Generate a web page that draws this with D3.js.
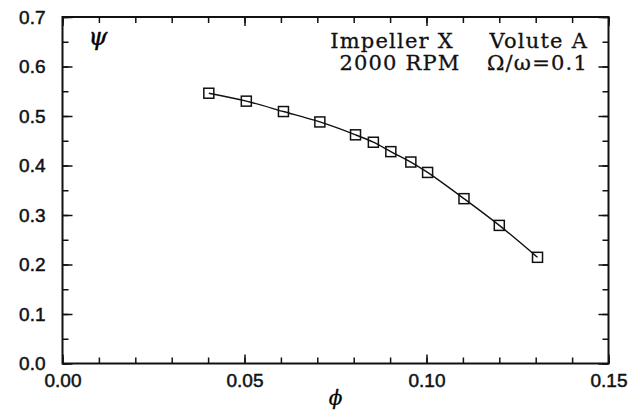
<!DOCTYPE html>
<html>
<head>
<meta charset="utf-8">
<script src="https://cdn.jsdelivr.net/npm/d3@7"></script>
<style>
  body { margin: 0; background: #fff; }
  .tick text { font-family: "Liberation Sans", Arial, sans-serif; font-size: 19px; fill: #111; stroke: #111; stroke-width: 0.5; }
  .domain { stroke: none; }
  .tick line { stroke: #111; stroke-width: 1.5; }
  .note { font-family: "DejaVu Serif", serif; font-size: 21px; letter-spacing: 1.2px; fill: #111; stroke: #111; stroke-width: 0.3; }
</style>
</head>
<body>
<svg id="chart" width="633" height="415"></svg>
<script>
// flow coefficient vs head coefficient
var phi = [0.0402, 0.0505, 0.0607, 0.0707, 0.0805, 0.0854, 0.0902, 0.0957, 0.1003, 0.1103, 0.1200, 0.1305];
var psi = [0.546, 0.530, 0.509, 0.488, 0.462, 0.447, 0.428, 0.407, 0.386, 0.333, 0.279, 0.2145];

var xTicks = [0, 0.05, 0.10, 0.15];
var yTicks = [0, 0.1, 0.2, 0.3, 0.4, 0.5, 0.6, 0.7];
var xMinor = d3.range(0, 0.1501, 0.01);
var yMinor = d3.range(0, 0.7001, 0.05);

var notes = [
  ["Impeller X", "Volute A"],
  ["2000 RPM", "\u03A9/\u03C9=0.1"]
];

var plotL = 62.5, plotR = 608.5, plotT = 17, plotB = 363.5;

var svg = d3.select("#chart");

var x = d3.scaleLinear().domain([0, 0.15]).range([plotL, plotR]);
var y = d3.scaleLinear().domain([0, 0.7]).range([plotB, plotT]);

// minor ticks all round
svg.append("g").attr("transform", "translate(0," + plotB + ")")
  .call(d3.axisBottom(x).tickValues(xMinor).tickSize(-6).tickFormat(""));
svg.append("g").attr("transform", "translate(0," + plotT + ")")
  .call(d3.axisTop(x).tickValues(xMinor).tickSize(-6).tickFormat(""));
svg.append("g").attr("transform", "translate(" + plotL + ",0)")
  .call(d3.axisLeft(y).tickValues(yMinor).tickSize(-6).tickFormat(""));
svg.append("g").attr("transform", "translate(" + plotR + ",0)")
  .call(d3.axisRight(y).tickValues(yMinor).tickSize(-6).tickFormat(""));

// major ticks + labels
svg.append("g").attr("transform", "translate(0," + plotB + ")")
  .call(d3.axisBottom(x).tickValues(xTicks).tickSize(-9).tickPadding(10).tickFormat(d3.format(".2f")));
svg.append("g").attr("transform", "translate(" + plotL + ",0)")
  .call(d3.axisLeft(y).tickValues(yTicks).tickSize(-10).tickPadding(17).tickFormat(d3.format(".1f")));
svg.append("g").attr("transform", "translate(0," + plotT + ")")
  .call(d3.axisTop(x).tickValues(xTicks).tickSize(-9).tickFormat(""));
svg.append("g").attr("transform", "translate(" + plotR + ",0)")
  .call(d3.axisRight(y).tickValues(yTicks).tickSize(-10).tickFormat(""));

// frame
svg.append("rect")
  .attr("x", plotL).attr("y", plotT)
  .attr("width", plotR - plotL).attr("height", plotB - plotT)
  .attr("fill", "none").attr("stroke", "#111").attr("stroke-width", 2);

var pts = phi.map(function(p, i) { return [p, psi[i]]; });

var line = d3.line()
  .x(function(d) { return x(d[0]); })
  .y(function(d) { return y(d[1]); })
  .curve(d3.curveCatmullRom);

svg.append("path")
  .datum(pts)
  .attr("d", line)
  .attr("fill", "none")
  .attr("stroke", "#111")
  .attr("stroke-width", 1.4);

var s = 10;
svg.selectAll(".pt").data(pts).enter().append("rect")
  .attr("class", "pt")
  .attr("x", function(d) { return x(d[0]) - s / 2; })
  .attr("y", function(d) { return y(d[1]) - s / 2; })
  .attr("width", s).attr("height", s)
  .attr("fill", "none")
  .attr("stroke", "#111")
  .attr("stroke-width", 1.5);

// labels
svg.append("text")
  .attr("x", x(0.075)).attr("y", 405)
  .attr("text-anchor", "middle")
  .style("font-family", "'DejaVu Serif', serif")
  .style("font-style", "italic")
  .style("font-size", "20px")
  .style("stroke", "#111").style("stroke-width", 0.3)
  .text("\u03D5");

svg.append("text")
  .attr("x", 98).attr("y", 45)
  .attr("text-anchor", "middle")
  .style("font-family", "'DejaVu Serif', serif")
  .style("font-style", "italic")
  .style("font-size", "24px")
  .style("stroke", "#111").style("stroke-width", 0.5)
  .text("\u03C8");

var noteY = [48, 70];
var noteMid = [392, 400];
notes.forEach(function(row, i) {
  svg.append("text")
    .attr("class", "note")
    .attr("x", noteMid[i]).attr("y", noteY[i])
    .attr("text-anchor", "middle")
    .text(row[0]);
  svg.append("text")
    .attr("class", "note")
    .attr("x", 588).attr("y", noteY[i])
    .attr("text-anchor", "end")
    .text(row[1]);
});
</script>
</body>
</html>
